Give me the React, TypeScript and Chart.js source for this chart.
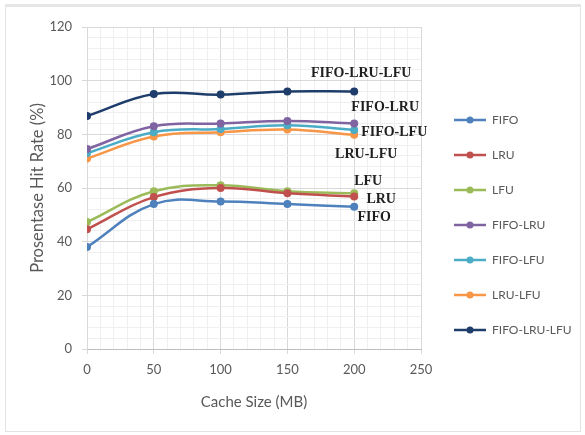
import React, { useEffect, useRef } from "react";
import { Chart, registerables } from "chart.js";

Chart.register(...registerables);

// ---- data ----
const cacheSizes = [0, 50, 100, 150, 200];
const seriesNames = ["FIFO", "LRU", "LFU", "FIFO-LRU", "FIFO-LFU", "LRU-LFU", "FIFO-LRU-LFU"];
const fifo = [38, 54, 55, 54, 53];
const lru = [44.6, 56.6, 60, 58, 56.8];
const lfu = [47.3, 58.8, 61, 58.8, 58];
const fifoLru = [74.5, 83, 84, 85, 84];
const fifoLfu = [73, 80.8, 82, 83.4, 81.6];
const lruLfu = [71, 79.2, 80.8, 81.8, 79.8];
const fifoLruLfu = [86.8, 95, 94.8, 96, 96];
const seriesValues = [fifo, lru, lfu, fifoLru, fifoLfu, lruLfu, fifoLruLfu];

const xMajorStep = 50;
const yMajorStep = 20;

// ---- styles ----
const colors = ["#4F81BD", "#C0504D", "#9BBB59", "#8064A2", "#4BACC6", "#F79646", "#1F3D6B"];
// end-label offsets (px) relative to each series' last point
const labelOffsets: [number, number][] = [
  [20, 11],
  [27, 3],
  [14, -12],
  [31, -16],
  [40, 2],
  [12, 20],
  [7, -18],
];
const legendWidth = 160;

function makeLegendIcon(color: string) {
  const c = document.createElement("canvas");
  c.width = 42;
  c.height = 10;
  const g = c.getContext("2d")!;
  g.strokeStyle = color;
  g.lineWidth = 2.5;
  g.beginPath();
  g.moveTo(10, 5);
  g.lineTo(42, 5);
  g.stroke();
  g.fillStyle = color;
  g.beginPath();
  g.arc(26, 5, 3.5, 0, Math.PI * 2);
  g.fill();
  return c;
}

const endLabels = {
  id: "endLabels",
  afterDatasetsDraw(chart: any) {
    const ctx = chart.ctx;
    ctx.save();
    ctx.font = 'bold 14px "Liberation Serif"';
    ctx.fillStyle = "#1f1f1f";
    ctx.textAlign = "center";
    ctx.textBaseline = "middle";
    chart.data.datasets.forEach((ds: any, i: number) => {
      const meta = chart.getDatasetMeta(i);
      const pt = meta.data[meta.data.length - 1];
      if (!pt) return;
      const off = labelOffsets[i];
      ctx.fillText(ds.label, pt.x + off[0], pt.y + off[1]);
    });
    ctx.restore();
  },
};

const legendSize = {
  id: "legendSize",
  beforeLayout(chart: any) {
    const lg = chart.legend;
    if (lg && !lg.__fixed) {
      const orig = lg.fit.bind(lg);
      lg.fit = function () {
        orig();
        this.width = legendWidth;
      };
      lg.__fixed = true;
    }
  },
};

export default function App() {
  const ref = useRef<HTMLCanvasElement>(null);

  useEffect(() => {
    if (!ref.current) return;
    const icons = colors.map(makeLegendIcon);
    const majorGrid = "#d9d9d9";
    const minorGrid = "#efefef";
    const chart = new Chart(ref.current, {
      type: "line",
      data: {
        datasets: seriesNames.map((name, i) => ({
          label: name,
          data: cacheSizes.map((x, j) => ({ x, y: seriesValues[i][j] })),
          borderColor: colors[i],
          backgroundColor: colors[i],
          borderWidth: 2.5,
          pointRadius: 4,
          pointHoverRadius: 4,
          pointBorderWidth: 0,
          tension: 0.4,
          fill: false,
        })),
      },
      options: {
        animation: false,
        responsive: false,
        maintainAspectRatio: false,
        layout: { padding: { top: 27, bottom: 12, left: 0, right: 4 } },
        plugins: {
          tooltip: { enabled: false },
          legend: {
            position: "right",
            align: "center",
            labels: {
              usePointStyle: true,
              pointStyleWidth: 42,
              boxHeight: 12,
              padding: 23,
              color: "#595959",
              font: { family: "Lato", size: 12 },
              generateLabels: (c: any) => {
                const items = (Chart.defaults.plugins.legend.labels as any).generateLabels(c);
                return items.map((it: any, i: number) => ({ ...it, pointStyle: icons[i] }));
              },
            },
          },
        },
        scales: {
          x: {
            type: "linear",
            min: 0,
            max: 250,
            afterFit: (s: any) => {
              s.height = 74;
            },
            ticks: {
              stepSize: 10,
              autoSkip: false,
              maxRotation: 0,
              padding: 8,
              color: "#595959",
              font: { family: "Lato", size: 13 },
              callback: (v: any) => (Number(v) % xMajorStep === 0 ? String(v) : ""),
            },
            grid: {
              color: (c: any) => (c.tick && c.tick.value % xMajorStep === 0 ? majorGrid : minorGrid),
              tickColor: (c: any) => (c.tick && c.tick.value % xMajorStep === 0 ? majorGrid : "rgba(0,0,0,0)"),
              tickLength: 5,
            },
            border: { color: "#bfbfbf" },
            title: {
              display: true,
              text: "Cache Size (MB)",
              color: "#595959",
              font: { family: "Lato", size: 15 },
              padding: { top: 0, bottom: 12 },
            },
          },
          y: {
            min: 0,
            max: 120,
            afterFit: (s: any) => {
              s.width = 87;
            },
            ticks: {
              stepSize: 4,
              autoSkip: false,
              padding: 10,
              color: "#595959",
              font: { family: "Lato", size: 13 },
              callback: (v: any) => (Number(v) % yMajorStep === 0 ? String(v) : ""),
            },
            grid: {
              color: (c: any) => (c.tick && c.tick.value % yMajorStep === 0 ? majorGrid : minorGrid),
              tickColor: (c: any) => (c.tick && c.tick.value % yMajorStep === 0 ? majorGrid : "rgba(0,0,0,0)"),
              tickLength: 5,
            },
            border: { color: majorGrid },
            title: {
              display: true,
              text: "Prosentase Hit Rate (%)",
              color: "#595959",
              font: { family: "Lato", size: 16.5 },
              padding: { top: 28, bottom: 0 },
            },
          },
        },
      },
      plugins: [legendSize, endLabels],
    } as any);
    return () => chart.destroy();
  }, []);

  return (
    <div style={{ position: "fixed", left: 0, top: 0, width: 585, height: 435, background: "#ffffff" }}>
      <div
        style={{
          position: "absolute",
          left: 5,
          top: 4,
          width: 576,
          height: 428,
          borderLeft: "1px solid #e3e3e3",
          borderRight: "1px solid #e3e3e3",
          borderBottom: "1px solid #e3e3e3",
          borderTop: "3px solid #e6e6e6",
          boxSizing: "border-box",
        }}
      />
      <canvas ref={ref} width={585} height={435} style={{ position: "absolute", left: 0, top: 0 }} />
    </div>
  );
}
